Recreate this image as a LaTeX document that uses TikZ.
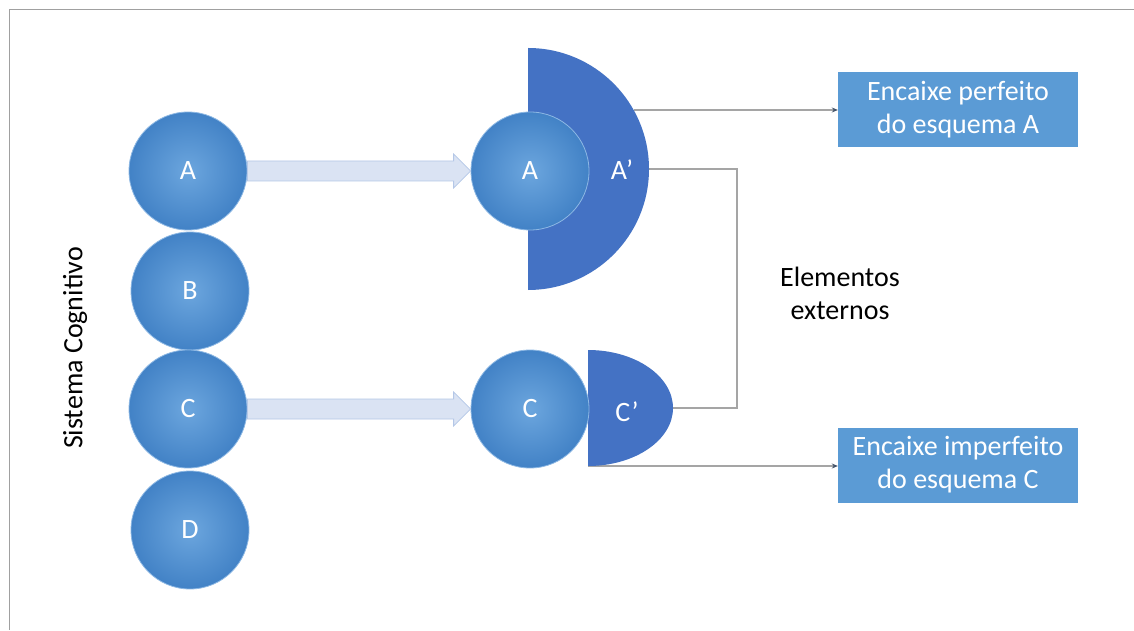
\documentclass[tikz,border=0pt]{standalone}
\usepackage{fontspec}
\setmainfont{Carlito}
\usetikzlibrary{arrows.meta,calc}
\definecolor{boxc}{HTML}{5B9BD5}
\definecolor{darkhalf}{HTML}{4472C4}
\definecolor{arrfill}{HTML}{DAE3F3}
\definecolor{arrdraw}{HTML}{B4C7E7}
\definecolor{connc}{HTML}{A5A5A5}
\definecolor{framec}{HTML}{A0A0A0}
\definecolor{ballin}{HTML}{6CA6DE}
\definecolor{ballout}{HTML}{4282C6}
\definecolor{ballrim}{HTML}{8DB8E4}
\definecolor{tipc}{HTML}{44546A}
\newcommand{\labfont}{\fontsize{28}{33}\selectfont}
\begin{document}
\begin{tikzpicture}[x=1pt,y=1pt,
  ball/.style={circle, minimum size=118pt, inner sep=0pt, draw=ballrim, line width=0.8pt,
    shading=radial, inner color=ballin, outer color=ballout, text=white, font=\labfont},
  conn/.style={draw=connc, line width=1.3pt},
  arrowend/.style={-{Stealth[length=6pt,width=5pt,color=tipc]}},
  outbox/.style={fill=boxc, minimum width=240pt, minimum height=75pt, inner sep=0pt,
    text=white, align=center, font=\labfont},
  blockarr/.style={fill=arrfill, draw=arrdraw, line width=0.8pt},
  halflab/.style={text=white, font=\labfont}
]
\useasboundingbox (0,0) rectangle (1134,630);
\fill[white] (0,0) rectangle (1134,630);
% frame
\draw[framec, line width=1pt] (9,0) -- (9,620) -- (1134,620);

% output boxes
\node[outbox] (boxa) at (958,520) {Encaixe perfeito\\do esquema A};
\node[outbox] (boxc) at (958,165) {Encaixe imperfeito\\do esquema C};

% left column
\node[ball] (la) at (188,459) {A};
\node[ball] (lb) at (190,339) {B};
\node[ball] (lc) at (188,221) {C};
\node[ball] (ld) at (190,100) {D};

% right side shapes
\coordinate (ap) at (528,461);
\coordinate (cp) at (588,222);

% connectors
\draw[conn] ($(ap)+(121,0)$) -- ++(88,0) |- ($(cp)+(85,0)$);
\draw[conn,arrowend] ($(ap)+(106,59)$) coordinate (s1) -- (s1 -| boxa.west);
\draw[conn,arrowend] ($(cp)+(0,-58)$) coordinate (s2) -- (s2 -| boxc.west);

\fill[darkhalf] ($(ap)+(0,121)$) arc[start angle=90, end angle=-90, radius=121] -- cycle;
\fill[darkhalf] ($(cp)+(0,58)$) arc[start angle=90, end angle=-90, x radius=85, y radius=58] -- cycle;

\node[ball] (ra) at (530,459) {A};
\node[ball] (rc) at (530,221) {C};
\node[halflab] (apl) at (622,460) {A'};
\node[halflab] (cpl) at (627,218) {C'};

% block arrows
\draw[blockarr] ($(la.east)+(0,10)$) -- ($(ra.west)+(-17,10)$) -- ($(ra.west)+(-17,17)$)
  -- (ra.west) -- ($(ra.west)+(-17,-17)$) -- ($(ra.west)+(-17,-10)$) -- ($(la.east)+(0,-10)$) -- cycle;
\draw[blockarr] ($(lc.east)+(0,10)$) -- ($(rc.west)+(-17,10)$) -- ($(rc.west)+(-17,17)$)
  -- (rc.west) -- ($(rc.west)+(-17,-17)$) -- ($(rc.west)+(-17,-10)$) -- ($(lc.east)+(0,-10)$) -- cycle;

% texts
\node[rotate=90, font=\labfont] (sc) at (75,282) {Sistema Cognitivo};
\node[align=center, font=\labfont] (ee) at (840,337) {Elementos\\externos};
\end{tikzpicture}
\end{document}
